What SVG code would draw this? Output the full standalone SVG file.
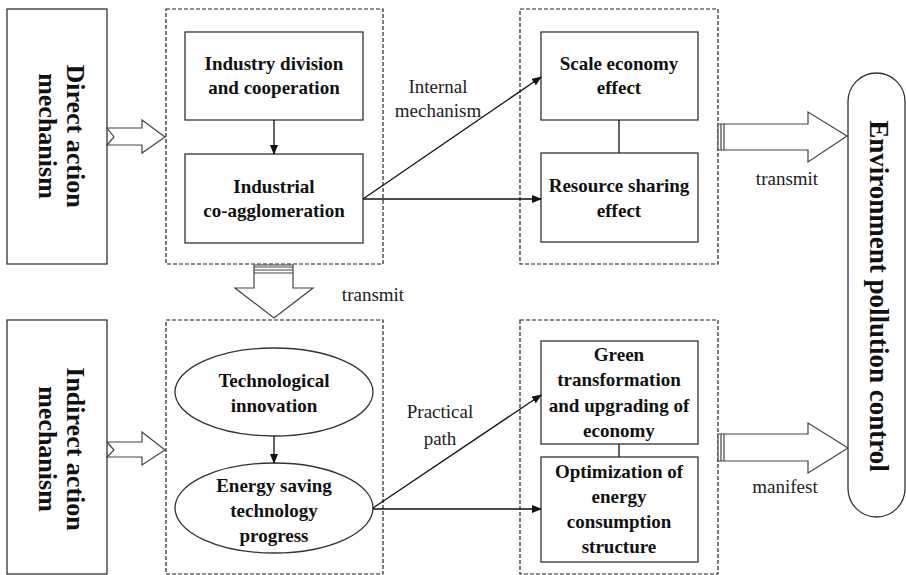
<svg xmlns="http://www.w3.org/2000/svg" width="906" height="575" viewBox="0 0 906 575">
<defs>
<marker id="ah" markerWidth="10" markerHeight="8" refX="9" refY="4" orient="auto" markerUnits="userSpaceOnUse">
<path d="M0,0 L10,4 L0,8 Z" fill="#111"/>
</marker>
<style>
.box{fill:#fff;stroke:#333;stroke-width:1.3}
.dash{fill:none;stroke:#222;stroke-width:1.2;stroke-dasharray:4,2}
.hol{fill:#fff;stroke:#444;stroke-width:1.2}
.ln{fill:none;stroke:#111;stroke-width:1.3}
.bt{font-family:"Liberation Serif","Times New Roman",serif;font-weight:bold;font-size:19px;fill:#111;text-anchor:middle}
.rt{font-family:"Liberation Serif","Times New Roman",serif;font-weight:bold;font-size:26px;fill:#111;text-anchor:middle}
.lb{font-family:"Liberation Serif","Times New Roman",serif;font-size:19px;fill:#222;text-anchor:middle}
.st{stroke:#444;stroke-width:1.2}
</style>
</defs>
<rect width="906" height="575" fill="#fff"/>

<g id="containers">
<rect class="dash" x="166" y="9" width="217" height="255"/>
<rect class="dash" x="520" y="9" width="198" height="255"/>
<rect class="dash" x="166" y="320" width="217" height="254"/>
<rect class="dash" x="520" y="320" width="198" height="254"/>
</g>

<g id="direct">
<rect class="box" x="7" y="9" width="100" height="255"/>
<text class="rt" transform="translate(57,136) rotate(90)"><tspan x="0" y="-10">Direct action</tspan><tspan x="0" y="18">mechanism</tspan></text>
</g>

<g id="indirect">
<rect class="box" x="7" y="320" width="100" height="254"/>
<text class="rt" transform="translate(57,449) rotate(90)"><tspan x="0" y="-10">Indirect action</tspan><tspan x="0" y="18">mechanism</tspan></text>
</g>

<g id="division">
<rect class="box" x="185" y="32" width="178" height="88"/>
<text class="bt"><tspan x="274" y="70">Industry division</tspan><tspan x="274" y="94">and cooperation</tspan></text>
</g>

<g id="coagg">
<rect class="box" x="185" y="154" width="178" height="89"/>
<text class="bt"><tspan x="274" y="193">Industrial</tspan><tspan x="274" y="217">co-agglomeration</tspan></text>
</g>

<g id="scale">
<rect class="box" x="541" y="32" width="157" height="88"/>
<text class="bt"><tspan x="619" y="70">Scale economy</tspan><tspan x="619" y="94">effect</tspan></text>
</g>

<g id="resource">
<rect class="box" x="541" y="153" width="157" height="89"/>
<text class="bt"><tspan x="619" y="192">Resource sharing</tspan><tspan x="619" y="217">effect</tspan></text>
</g>

<g id="techinno">
<ellipse class="box" cx="274" cy="392" rx="99" ry="44"/>
<text class="bt"><tspan x="274" y="387">Technological</tspan><tspan x="274" y="412">innovation</tspan></text>
</g>

<g id="energysaving">
<ellipse class="box" cx="274" cy="508" rx="99" ry="45"/>
<text class="bt"><tspan x="274" y="492">Energy saving</tspan><tspan x="274" y="517">technology</tspan><tspan x="274" y="542">progress</tspan></text>
</g>

<g id="green">
<rect class="box" x="541" y="341" width="157" height="103"/>
<text class="bt"><tspan x="619" y="361">Green</tspan><tspan x="619" y="386">transformation</tspan><tspan x="619" y="412">and upgrading of</tspan><tspan x="619" y="437">economy</tspan></text>
</g>

<g id="optimization">
<rect class="box" x="541" y="457" width="157" height="105"/>
<text class="bt"><tspan x="619" y="478">Optimization of</tspan><tspan x="619" y="503">energy</tspan><tspan x="619" y="528">consumption</tspan><tspan x="619" y="553">structure</tspan></text>
</g>

<g id="environment">
<rect class="box" x="848" y="73" width="57" height="444" rx="28.5" ry="28.5"/>
<text class="rt" style="font-size:27px" transform="translate(876,296) rotate(90)" x="0" y="6">Environment pollution control</text>
</g>

<g id="connectors">
<line class="ln" x1="274" y1="120" x2="274" y2="154" marker-end="url(#ah)"/>
<line class="ln" x1="274" y1="436" x2="274" y2="463" marker-end="url(#ah)"/>
<line class="ln" x1="363" y1="199" x2="541" y2="77" marker-end="url(#ah)"/>
<line class="ln" x1="363" y1="199" x2="541" y2="199" marker-end="url(#ah)"/>
<line class="ln" x1="373" y1="508" x2="541" y2="395" marker-end="url(#ah)"/>
<line class="ln" x1="373" y1="509" x2="541" y2="509" marker-end="url(#ah)"/>
<line class="ln" x1="619" y1="120" x2="619" y2="153"/>
<line class="ln" x1="619" y1="444" x2="619" y2="457"/>

<polygon class="hol" points="107,128 142,128 142,120 165,137 142,153 142,145 107,145 114,137"/>
<polygon class="hol" points="107,442 142,442 142,432 165,450 142,465 142,457 107,457 114,450"/>

<polygon class="hol" points="254,265 293,265 293,288 313,288 274,318 235,288 254,288"/>
<line class="st" x1="254" y1="267" x2="293" y2="267" stroke-width="2"/>
<line class="st" x1="254" y1="270" x2="293" y2="270"/>
<line class="st" x1="254" y1="273" x2="293" y2="273"/>

<polygon class="hol" points="718,124 808,124 808,112 847,136 808,162 808,150 718,150"/>
<line class="st" x1="721" y1="124" x2="721" y2="150" stroke-width="2"/>
<line class="st" x1="724" y1="124" x2="724" y2="150"/>

<polygon class="hol" points="718,434 808,434 808,423 848,448 808,473 808,461 718,461"/>
<line class="st" x1="721" y1="434" x2="721" y2="461" stroke-width="2"/>
<line class="st" x1="724" y1="434" x2="724" y2="461"/>
</g>

<g id="labels">
<text class="lb"><tspan x="438" y="93">Internal</tspan><tspan x="438" y="117">mechanism</tspan></text>
<text class="lb" x="787" y="185">transmit</text>
<text class="lb" x="373" y="301">transmit</text>
<text class="lb"><tspan x="440" y="418">Practical</tspan><tspan x="440" y="445">path</tspan></text>
<text class="lb" x="785" y="493">manifest</text>
</g>
</svg>
